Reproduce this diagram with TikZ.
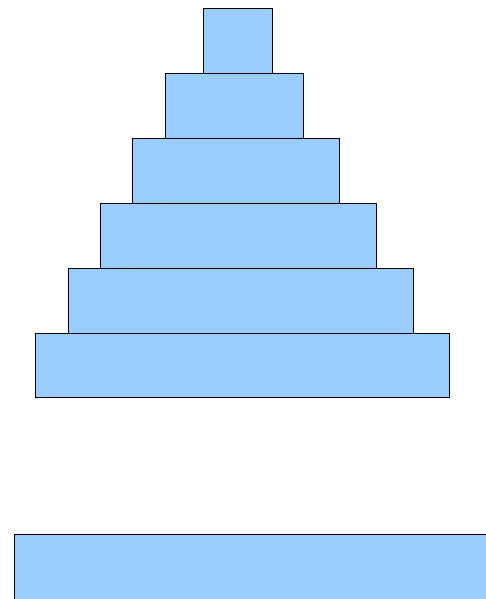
\documentclass[tikz,border=0pt]{standalone}
\definecolor{boxblue}{RGB}{153,204,255}
\begin{document}
\begin{tikzpicture}[x=1pt,y=-1pt,
  tier/.style={fill=boxblue,draw=black,line width=0.8pt}]
\useasboundingbox (0,0) rectangle (486,599);
\begin{scope}
\clip (0,0) rectangle (486,599);
\path[tier] (203.5,8) rectangle (272,73) coordinate (t1);
\path[tier] (165,73) rectangle (303,138) coordinate (t2);
\path[tier] (132,138) rectangle (339,203) coordinate (t3);
\path[tier] (100,203) rectangle (376,268) coordinate (t4);
\path[tier] (68,268) rectangle (413,333) coordinate (t5);
\path[tier] (35,333) rectangle (449,397) coordinate (t6);
\path[tier] (14,534) rectangle (492,604) coordinate (t7);
\end{scope}
\end{tikzpicture}
\end{document}
